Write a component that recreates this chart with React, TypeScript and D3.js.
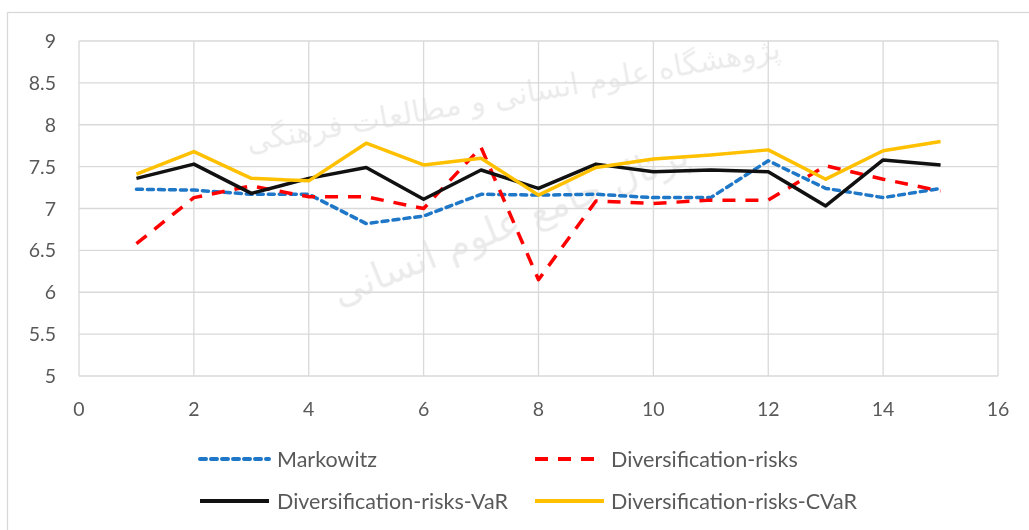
import React from "react";
import * as d3 from "d3";

const xs = [1, 2, 3, 4, 5, 6, 7, 8, 9, 10, 11, 12, 13, 14, 15];
const markowitz = [7.23, 7.22, 7.17, 7.17, 6.82, 6.91, 7.17, 7.16, 7.17, 7.13, 7.13, 7.57, 7.24, 7.13, 7.24];
const divRisks = [6.58, 7.13, 7.27, 7.14, 7.14, 7.0, 7.73, 6.15, 7.09, 7.06, 7.1, 7.1, 7.51, 7.35, 7.21];
const divVaR = [7.36, 7.53, 7.18, 7.36, 7.49, 7.11, 7.46, 7.24, 7.53, 7.44, 7.46, 7.44, 7.03, 7.58, 7.52];
const divCVaR = [7.41, 7.68, 7.36, 7.33, 7.78, 7.52, 7.6, 7.16, 7.49, 7.59, 7.64, 7.7, 7.35, 7.69, 7.8];
const xTicks = [0, 2, 4, 6, 8, 10, 12, 14, 16];
const yTicks = [5, 5.5, 6, 6.5, 7, 7.5, 8, 8.5, 9];
const watermark = ["پژوهشگاه علوم انسانی و مطالعات فرهنگی", "پرتال جامع علوم انسانی"];

const series = [
  { name: "Markowitz", values: markowitz, color: "#1F77C8", dash: "6 5", cap: "round", w: 3.5 },
  { name: "Diversification-risks", values: divRisks, color: "#FF0000", dash: "13 10", cap: "butt", w: 3.5 },
  { name: "Diversification-risks-VaR", values: divVaR, color: "#111111", dash: null, cap: "butt", w: 3.5 },
  { name: "Diversification-risks-CVaR", values: divCVaR, color: "#FFC000", dash: null, cap: "butt", w: 3.5 },
];

const W = 1029, H = 530;
const font = "Lato, 'Noto Sans', sans-serif";
const textColor = "#595959";

export default function App() {
  const x = d3.scaleLinear().domain([0, 16]).range([79, 998]);
  const y = d3.scaleLinear().domain([5, 9]).range([376, 41]);
  const line = d3.line<number>().x((_, i) => x(xs[i])).y((d) => y(d));

  const legendPos = [
    { lx: 200, tx: 277, ly: 459 },
    { lx: 535, tx: 611, ly: 459 },
    { lx: 200, tx: 277, ly: 501 },
    { lx: 535, tx: 611, ly: 501 },
  ];

  return (
    <svg width={W} height={H} style={{ position: "absolute", left: 0, top: 0 }}>
      <rect x={0} y={0} width={W} height={H} fill="#fff" />
      <rect x={7.5} y={12.5} width={W + 10} height={H} fill="none" stroke="#d9d9d9" strokeWidth={1.3} />
      {/* faint watermark */}
      <g fill="#000" opacity={0.08} fontFamily="'DejaVu Sans', sans-serif" textAnchor="middle">
        <text x={515} y={105} fontSize={30} transform="rotate(-10 515 105)">{watermark[0]}</text>
        <text x={515} y={235} fontSize={38} transform="rotate(-22 515 235)">{watermark[1]}</text>
      </g>
      {yTicks.map((t) => (
        <line key={"gy" + t} x1={x(0)} x2={x(16)} y1={y(t)} y2={y(t)} stroke="#d9d9d9" strokeWidth={1.3} />
      ))}
      {xTicks.map((t) => (
        <line key={"gx" + t} x1={x(t)} x2={x(t)} y1={y(5)} y2={y(9)} stroke="#d9d9d9" strokeWidth={1.3} />
      ))}
      {yTicks.map((t) => (
        <text key={"ty" + t} x={56} y={y(t)} dy="0.36em" textAnchor="end" fontSize={19.5} fill={textColor} fontFamily={font}>
          {t}
        </text>
      ))}
      {xTicks.map((t) => (
        <text key={"tx" + t} x={x(t)} y={409} dy="0.36em" textAnchor="middle" fontSize={19.5} fill={textColor} fontFamily={font}>
          {t}
        </text>
      ))}
      {series.map((s) => (
        <path
          key={s.name}
          d={line(s.values) || ""}
          fill="none"
          stroke={s.color}
          strokeWidth={s.w}
          strokeDasharray={s.dash || undefined}
          strokeLinecap={s.cap as any}
          strokeLinejoin="round"
        />
      ))}
      {series.map((s, i) => {
        const p = legendPos[i];
        return (
          <g key={"lg" + s.name}>
            <line x1={p.lx} x2={p.lx + 69} y1={p.ly} y2={p.ly} stroke={s.color} strokeWidth={s.w + 0.5}
              strokeDasharray={s.dash || undefined} strokeLinecap={s.cap as any} />
            <text x={p.tx} y={p.ly} dy="0.36em" fontSize={21.5} fill={textColor} fontFamily={font}>
              {s.name}
            </text>
          </g>
        );
      })}
    </svg>
  );
}
